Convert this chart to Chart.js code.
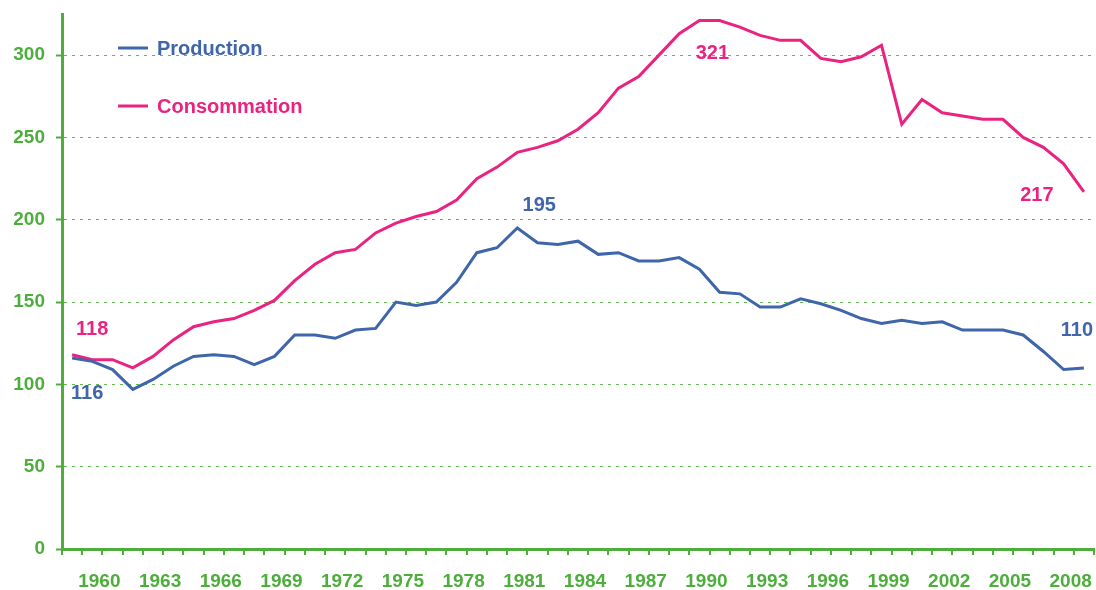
<!DOCTYPE html>
<html lang="fr">
<head>
<meta charset="utf-8">
<title>Production et consommation</title>
<script src="https://cdn.jsdelivr.net/npm/chart.js"></script>
<style>
  html, body { margin: 0; padding: 0; background: #fff; }
  #wrap { width: 1096px; height: 590px; }
</style>
</head>
<body>
<div id="wrap"><canvas id="chart" width="1096" height="590"></canvas></div>
<script>
// Years on the category axis
const years = [];
for (let y = 1959; y <= 2009; y++) years.push(String(y));

// Values
const production = [
  116, 114, 109, 97, 103, 111, 117, 118, 117, 112,
  117, 130, 130, 128, 133, 134, 150, 148, 150, 162,
  180, 183, 195, 186, 185, 187, 179, 180, 175, 175,
  177, 170, 156, 155, 147, 147, 152, 149, 145, 140,
  137, 139, 137, 138, 133, 133, 133, 130, 120, 109,
  110
];
const consommation = [
  118, 115, 115, 110, 117, 127, 135, 138, 140, 145,
  151, 163, 173, 180, 182, 192, 198, 202, 205, 212,
  225, 232, 241, 244, 248, 255, 265, 280, 287, 300,
  313, 321, 321, 317, 312, 309, 309, 298, 296, 299,
  306, 258, 273, 265, 263, 261, 261, 250, 244, 234,
  217
];
const yTicks = [0, 50, 100, 150, 200, 250, 300];

const BLUE = '#3F66AA';
const PINK = '#EA2380';
const GREEN = '#4DAE3C';
const GRID = '#62BA50';
const FONT = '"Liberation Sans", Arial, sans-serif';

// value labels: dataset index, point index, text offset from the point
const valueLabels = [
  { ds: 0, i: 0, dx: 15, dy: 35 },
  { ds: 1, i: 0, dx: 20, dy: -25 },
  { ds: 0, i: 22, dx: 22, dy: -23 },
  { ds: 1, i: 31, dx: 13, dy: 33 },
  { ds: 1, i: 50, dx: -47, dy: 4 },
  { ds: 0, i: 50, dx: -7, dy: -37 }
];

const labelsPlugin = {
  id: 'labels',
  afterDatasetsDraw(chart) {
    const ctx = chart.ctx;
    const xs = chart.scales.x, ys = chart.scales.y;
    ctx.save();
    ctx.font = 'bold 20px ' + FONT;
    ctx.textAlign = 'center';
    ctx.textBaseline = 'middle';
    valueLabels.forEach(l => {
      const ds = chart.data.datasets[l.ds];
      const v = ds.data[l.i];
      ctx.fillStyle = ds.borderColor;
      ctx.fillText(String(v), xs.getPixelForValue(l.i) + l.dx, ys.getPixelForValue(v) + l.dy);
    });

    // legend, top left inside the plot
    const items = chart.data.datasets.map(d => ({ text: d.label, color: d.borderColor }));
    ctx.textAlign = 'left';
    items.forEach((it, k) => {
      const y = 48 + k * 58;
      ctx.strokeStyle = it.color;
      ctx.lineWidth = 3;
      ctx.beginPath();
      ctx.moveTo(118, y);
      ctx.lineTo(148, y);
      ctx.stroke();
      ctx.fillStyle = it.color;
      ctx.fillText(it.text, 157, y + 1);
    });
    ctx.restore();
  }
};

new Chart(document.getElementById('chart').getContext('2d'), {
  type: 'line',
  data: {
    labels: years,
    datasets: [
      { label: 'Production', data: production, borderColor: BLUE, backgroundColor: BLUE,
        borderWidth: 3, pointRadius: 0, tension: 0, fill: false },
      { label: 'Consommation', data: consommation, borderColor: PINK, backgroundColor: PINK,
        borderWidth: 3, pointRadius: 0, tension: 0, fill: false }
    ]
  },
  options: {
    responsive: false,
    animation: false,
    layout: { padding: { top: 14, right: 2, left: 0, bottom: 0 } },
    plugins: {
      legend: { display: false },
      tooltip: { enabled: false }
    },
    scales: {
      x: {
        offset: true,
        afterFit: s => { s.height = 41; s.paddingLeft = 0; s.paddingRight = 0; },
        grid: { offset: true, drawOnChartArea: false, drawTicks: true, tickLength: 6,
                color: GREEN, lineWidth: 2 },
        border: { color: GREEN, width: 3 },
        ticks: {
          autoSkip: false, maxRotation: 0, minRotation: 0,
          padding: 15, labelOffset: 7,
          color: GREEN, font: { family: FONT, size: 19, weight: 'bold' },
          callback: (v, i) => ((+years[i] - 1960) % 3 === 0 ? years[i] : '')
        }
      },
      y: {
        min: 0, max: 325,
        afterFit: s => { s.width = 62; s.paddingTop = 0; s.paddingBottom = 0; },
        afterBuildTicks: s => { s.ticks = s.ticks.filter(t => yTicks.includes(t.value)); },
        grid: { color: GRID, lineWidth: 1, tickBorderDash: [],
                tickColor: GREEN, tickWidth: 2, tickLength: 6 },
        border: { color: GREEN, width: 3, dash: [3, 5] },
        ticks: {
          stepSize: 50, padding: 11,
          color: GREEN, font: { family: FONT, size: 19, weight: 'bold' }
        }
      }
    }
  },
  plugins: [labelsPlugin]
});
</script>
</body>
</html>
